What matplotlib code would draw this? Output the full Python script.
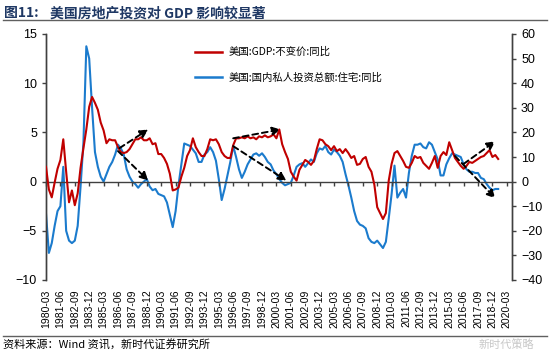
import matplotlib.pyplot as plt
import pandas as pd

plt.rcParams['font.family'] = ['Liberation Sans', 'Noto Sans CJK SC', 'DejaVu Sans']

# quarterly categories 1980-03 .. 2020-06
quarters = pd.period_range('1980Q1', '2020Q2', freq='Q')
cat_labels = [f'{q.year}-{q.quarter * 3:02d}' for q in quarters]

# US real GDP yoy (%), left axis
gdp_yoy = [1.5, -0.8, -1.6, -0.1, 1.3, 2.2, 4.3, 1.0, -2.1, -0.9, -2.4, -1.2,
           1.4, 3.4, 5.3, 7.6, 8.6, 8.0, 7.3, 6.0, 5.2, 3.9, 4.3, 4.2,
           4.2, 3.5, 3.0, 2.9, 3.0, 3.3, 3.8, 4.3, 4.3, 4.5, 4.2, 4.2,
           4.4, 3.8, 3.9, 2.8, 2.8, 2.4, 1.8, 0.8, -0.9, -0.8, -0.6, 0.5,
           1.4, 2.6, 3.2, 4.4, 3.5, 3.0, 2.6, 2.6, 3.3, 4.3, 4.2, 4.3,
           3.8, 3.0, 2.6, 2.4, 2.4, 3.7, 4.4, 4.4, 4.5, 4.4, 4.6, 4.4,
           4.5, 4.3, 4.6, 4.5, 4.7, 4.5, 4.6, 4.8, 4.4, 5.3, 3.8, 3.0,
           2.3, 1.0, 0.5, 0.1, 1.2, 1.7, 2.2, 2.0, 1.7, 2.1, 3.3, 4.3,
           4.2, 3.8, 3.6, 3.2, 3.6, 3.1, 3.3, 2.9, 3.3, 2.9, 2.4, 2.6,
           1.7, 1.8, 2.3, 2.5, 1.5, 1.0, -0.3, -2.6, -3.2, -3.8, -3.2, 0.1,
           1.8, 2.9, 3.1, 2.6, 2.1, 1.5, 1.4, 1.9, 2.6, 2.4, 2.5, 1.9,
           1.6, 1.3, 1.9, 2.6, 1.4, 2.6, 3.0, 2.7, 4.0, 3.2, 2.4, 2.0,
           1.6, 1.3, 1.6, 2.0, 1.9, 2.1, 2.3, 2.5, 2.6, 2.9, 3.2, 2.5,
           2.7, 2.3]

# US private residential fixed investment yoy (%), right axis
resi_yoy = [-13, -29, -25, -18, -12, -10, 6, -20, -24, -25, -24, -18,
            -2, 16, 55, 50, 30, 12, 6, 2, 0, 3, 6, 8,
            11, 15, 13.5, 11, 5, 2, 0, -1, -2.5, -1, 0, 1,
            -2, -3.5, -3, -5, -5.5, -6, -8.5, -13.5, -18.5, -12, -1.5, 7,
            15.5, 15, 14.5, 13, 11.5, 8, 8, 11, 12, 14, 12, 8.5,
            1, -7.5, -3, 2.5, 8, 14.5, 10, 5, 1.5, 4, 7, 9,
            11, 11.5, 10.5, 11.5, 10, 8, 7, 4.5, 3, 1, -0.5, -1.5,
            -1, -0.5, 2.5, 6, 7, 7.5, 6, 7.5, 9, 8, 11.5, 13.5,
            13, 14.5, 12, 11, 13, 12, 10.5, 8, 3, -1.5, -6.5, -12,
            -16, -17.5, -18, -19, -23, -24.5, -25, -24, -25.5, -27, -24.5, -15,
            -5, 6.5, -6.5, -4.5, -3, -6.5, 3.5, 10.5, 15, 15, 15.5, 14,
            13.5, 16, 15, 12, 9, 2.5, 2.5, 7, 9.5, 11.5, 11, 10.5,
            10, 7, 5, 4, 4, 3.5, 3.5, 1.5, 1, -1, -2.5, -3.5,
            -3, -3]

# dashed trend arrows: (start idx, start value, end idx, end value) on left axis
arrows = [(25.5, 3.4, 35.5, 5.3), (25, 3.1, 35.5, 0.1),
          (65, 4.4, 81.5, 5.3), (65, 3.6, 83.5, 0.1),
          (145, 1.8, 156, 4.1), (142, 2.6, 156, -1.7)]

red = '#C00000'
blue = '#1B7BCD'
axis_col = '#404040'

fig = plt.figure(figsize=(5.5, 3.53), dpi=100)
ax = fig.add_axes([46 / 550, 1 - 280 / 353, (512 - 46) / 550, (280 - 34) / 353])
ax2 = ax.twinx()

x_gdp = range(len(gdp_yoy))
x_resi = range(len(resi_yoy))
l1, = ax.plot(x_gdp, gdp_yoy, color=red, lw=1.5, label='美国:GDP:不变价:同比', zorder=3)
l2, = ax2.plot(x_resi, resi_yoy, color=blue, lw=1.5, label='美国:国内私人投资总额:住宅:同比')
ax.set_zorder(ax2.get_zorder() + 1)
ax.patch.set_visible(False)

ax.set_xlim(0, 161.8)
ax.set_ylim(-10, 15)
ax2.set_ylim(-40, 60)
ax.set_yticks(range(-10, 16, 5))
ax2.set_yticks(range(-40, 61, 10))

for a in (ax, ax2):
    a.spines['top'].set_visible(False)
    for s in a.spines.values():
        s.set_color(axis_col)
        s.set_linewidth(1.0)
    a.tick_params(axis='y', colors=axis_col, labelcolor='black', labelsize=9,
                  length=3, width=1.0)
ax2.spines['bottom'].set_visible(False)
ax.spines['bottom'].set_position(('data', 0))

tick_pos = list(range(0, len(cat_labels), 5))
ax.set_xticks(tick_pos)
ax.tick_params(axis='x', labelbottom=False, length=3, width=1.0, colors=axis_col)

sec = ax.secondary_xaxis('bottom')
sec.set_xticks(tick_pos, [cat_labels[i] for i in tick_pos], rotation=90)
sec.tick_params(axis='x', length=0, labelsize=7.5, pad=7)
sec.spines['bottom'].set_visible(False)

for x0, y0, x1, y1 in arrows:
    ax.annotate('', xy=(x1, y1), xytext=(x0, y0),
                arrowprops=dict(arrowstyle='-|>', linestyle=(0, (3, 2)), lw=1.4,
                                color='black', mutation_scale=12, shrinkA=0, shrinkB=0),
                zorder=5)

leg = ax.legend(handles=[l1, l2], loc='upper left', bbox_to_anchor=(0.3, 0.985),
                frameon=False, handlelength=2.6, handletextpad=0.6,
                labelspacing=1.45, prop={'family': ['Noto Sans CJK SC'], 'size': 7.5})
for line in leg.get_lines():
    line.set_linewidth(1.8)

# header / footer
fig.text(0.008, 0.963, '图11:', fontsize=10, fontweight='bold', color='#1F3864',
         family=['Noto Sans CJK SC'], va='center')
fig.text(0.09, 0.963, '美国房地产投资对 GDP 影响较显著', fontsize=10, fontweight='bold',
         color='#1F3864', family=['Noto Sans CJK SC'], va='center')
fig.add_artist(plt.Line2D([0.005, 0.995], [1 - 20 / 353] * 2, color='#606060', lw=1.0))
fig.add_artist(plt.Line2D([0.005, 0.995], [1 - 336 / 353] * 2, color='#606060', lw=1.0))
fig.text(0.006, 1 - 345 / 353, '资料来源：Wind 资讯，新时代证券研究所', fontsize=8,
         family=['Noto Sans CJK SC'], va='center')
fig.text(0.92, 1 - 345 / 353, '新时代策略', fontsize=8, color='#c8c8c8',
         family=['Noto Sans CJK SC'], va='center', ha='center')

fig.savefig('out.png', dpi=100)
